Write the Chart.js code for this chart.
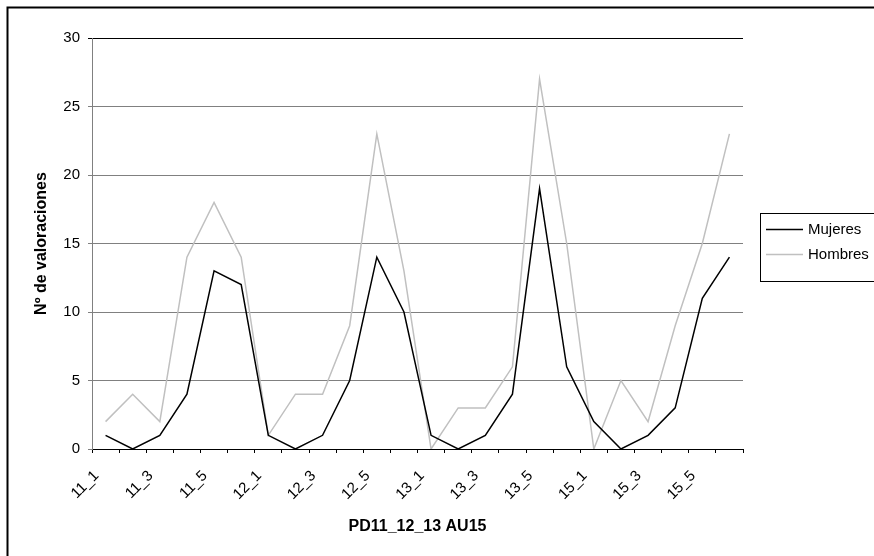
<!DOCTYPE html>
<html>
<head>
<meta charset="utf-8">
<script src="https://cdn.jsdelivr.net/npm/chart.js@4.4.1/dist/chart.umd.min.js"></script>
<style>
  html, body { margin: 0; padding: 0; background: #fff; }
  #wrap { position: relative; width: 874px; height: 556px; }
</style>
</head>
<body>
<div id="wrap"><canvas id="chart"></canvas></div>
<script>
// categories: 4 groups x 6
var categories = [
    "11_1", "11_2", "11_3", "11_4", "11_5", "11_6",
    "12_1", "12_2", "12_3", "12_4", "12_5", "12_6",
    "13_1", "13_2", "13_3", "13_4", "13_5", "13_6",
    "15_1", "15_2", "15_3", "15_4", "15_5", "15_6"
];
var mujeres = [1, 0, 1, 4, 13, 12, 1, 0, 1, 5, 14, 10, 1, 0, 1, 4, 19, 6, 2, 0, 1, 3, 11, 14];
var hombres = [2, 4, 2, 14, 18, 14, 1, 4, 4, 9, 23, 13, 0, 3, 3, 6, 27, 15, 0, 5, 2, 9, 15, 23];
var yTicks = [0, 5, 10, 15, 20, 25, 30];

var FONT = "'Liberation Sans', Arial, sans-serif";

// frame (left + top) and the boxed legend on the right
const framePlugin = {
    id: "frame",
    afterDraw(chart) {
        const ctx = chart.ctx;
        ctx.save();
        ctx.strokeStyle = "#000";
        ctx.lineWidth = 2;
        ctx.beginPath();
        ctx.moveTo(7.5, 556);
        ctx.lineTo(7.5, 7.5);
        ctx.lineTo(874, 7.5);
        ctx.stroke();

        // legend box
        ctx.lineWidth = 1;
        ctx.strokeRect(760.5, 213.5, 120, 68);
        ctx.font = "15px " + FONT;
        ctx.textBaseline = "middle";
        ctx.fillStyle = "#000";
        chart.data.datasets.forEach((ds, i) => {
            const y = 229.5 + i * 25;
            ctx.strokeStyle = ds.borderColor;
            ctx.lineWidth = ds.borderWidth;
            ctx.beginPath();
            ctx.moveTo(766, y);
            ctx.lineTo(803, y);
            ctx.stroke();
            ctx.fillText(ds.label, 808, y);
        });
        ctx.restore();
    }
};

var ctx = document.getElementById("chart").getContext("2d");
const config = {
    type: "line",
    data: {
        labels: categories,
        datasets: [
            {
                label: "Mujeres",
                data: mujeres,
                borderColor: "#000000",
                backgroundColor: "#000000",
                borderWidth: 1.5,
                pointRadius: 0,
                tension: 0
            },
            {
                label: "Hombres",
                data: hombres,
                borderColor: "#c0c0c0",
                backgroundColor: "#c0c0c0",
                borderWidth: 1.5,
                pointRadius: 0,
                tension: 0
            }
        ]
    },
    options: {
        responsive: true,
        maintainAspectRatio: false,
        animation: false,
        layout: {
            padding: { left: 0, right: 131, top: 38, bottom: 0 }
        },
        plugins: {
            legend: { display: false },
            tooltip: { enabled: false }
        },
        scales: {
            x: {
                type: "category",
                offset: true,
                grid: {
                    offset: true,
                    drawOnChartArea: false,
                    drawTicks: true,
                    tickLength: 4,
                    color: "#000"
                },
                border: { display: true, color: "#000", width: 1 },
                ticks: {
                    autoSkip: false,
                    maxRotation: 45,
                    minRotation: 45,
                    padding: 14,
                    labelOffset: -9,
                    color: "#000",
                    font: { family: FONT, size: 15 },
                    callback: function (value, index) {
                        return index % 2 === 0 ? categories[index] : "";
                    }
                },
                title: {
                    display: true,
                    text: "PD11_12_13 AU15",
                    color: "#000",
                    font: { family: FONT, size: 16, weight: "bold" },
                    padding: { top: 0, bottom: 20 }
                },
                afterFit: function (scale) { scale.height = 107; }
            },
            y: {
                min: 0,
                max: 30,
                afterBuildTicks: function (scale) {
                    scale.ticks = yTicks.map(v => ({ value: v }));
                },
                grid: {
                    color: function (c) {
                        return c.tick && c.tick.value === 30 ? "#000" : "#808080";
                    },
                    lineWidth: 1,
                    tickLength: 4
                },
                border: { display: true, color: "#808080", width: 1 },
                ticks: {
                    padding: 8,
                    color: "#000",
                    font: { family: FONT, size: 15 }
                },
                title: {
                    display: true,
                    text: "Nº de valoraciones",
                    color: "#000",
                    font: { family: FONT, size: 16, weight: "bold" },
                    padding: { top: 32, bottom: 0 }
                },
                afterFit: function (scale) { scale.width = 92; }
            }
        }
    },
    plugins: [framePlugin]
};

var myChart = new Chart(ctx, config);
</script>
</body>
</html>
